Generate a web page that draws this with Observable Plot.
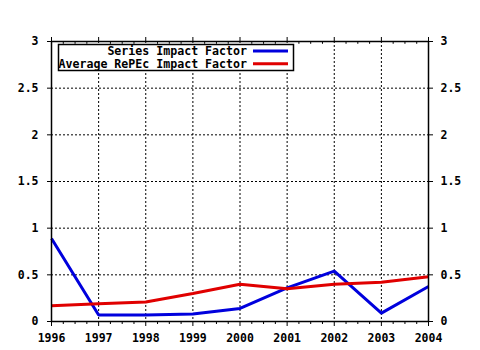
<!DOCTYPE html>
<html><head><meta charset="utf-8">
<script src="https://cdn.jsdelivr.net/npm/d3@7"></script>
<script src="https://cdn.jsdelivr.net/npm/@observablehq/plot@0.6"></script>
<style>
body{margin:0;background:#fff;}
svg{font-family:"DejaVu Sans Mono",monospace;font-weight:bold;}
</style></head>
<body><div id="chart"></div>
<script>
const years = [1996,1997,1998,1999,2000,2001,2002,2003,2004];
const seriesIF = [0.89,0.07,0.07,0.08,0.14,0.36,0.54,0.09,0.375];
const avgIF = [0.17,0.19,0.21,0.30,0.40,0.35,0.40,0.42,0.48];
const yTicks = [0,0.5,1,1.5,2,2.5,3];
const seriesNames = ["Series Impact Factor","Average RePEc Impact Factor"];
const seriesColors = ["#0000dd","#e00000"];

const data = [];
years.forEach((y,i)=>{
  data.push({year:y, value:seriesIF[i], s:seriesNames[0]});
  data.push({year:y, value:avgIF[i], s:seriesNames[1]});
});
const minor = d3.range(years[0], years[years.length-1]+0.01, 0.25).filter(v => Math.abs(v - Math.round(v)) > 1e-6);

const fmt = d => String(d);
const plot = Plot.plot({
  width:480, height:350,
  marginLeft:51, marginRight:52, marginTop:41, marginBottom:29,
  style:{fontFamily:"DejaVu Sans Mono, monospace", fontSize:"11.5px", fontWeight:"bold", background:"#fff", color:"#000"},
  x:{domain:[years[0], years[years.length-1]]},
  y:{domain:[0,3]},
  color:{domain:seriesNames, range:seriesColors},
  marks:[
    Plot.gridX(years, {stroke:"#000", strokeOpacity:1, strokeDasharray:"2,2"}),
    Plot.gridY(yTicks, {stroke:"#000", strokeOpacity:1, strokeDasharray:"2,2"}),
    Plot.lineY(data, {x:"year", y:"value", stroke:"s", strokeWidth:3, strokeLinejoin:"miter", strokeLinecap:"butt"}),
    Plot.frame({stroke:"#000", strokeWidth:1.5}),
    Plot.axisX(years, {anchor:"bottom", tickSize:5, tickPadding:7, tickFormat:fmt, label:null, fill:"#000"}),
    Plot.axisX(minor, {anchor:"bottom", tickSize:3, tickFormat:null, label:null, text:null}),
    Plot.axisX(years, {anchor:"top", tickSize:5, tickFormat:null, label:null, text:null}),
    Plot.ruleX(minor, {x:d=>d, y1:3, y2:2.97, stroke:"#000"}),
    Plot.axisY(yTicks, {anchor:"left", tickSize:4, tickPadding:9, tickFormat:fmt, label:null, fill:"#000"}),
    Plot.axisY(yTicks, {anchor:"right", tickSize:4, tickPadding:8, tickFormat:fmt, label:null, fill:"#000"})
  ]
});
document.getElementById("chart").appendChild(plot);

// legend inside plot area
const svg = d3.select(plot);
const lg = svg.append("g");
lg.append("rect").attr("x",58.5).attr("y",44.5).attr("width",235).attr("height",26)
  .attr("fill","#fff").attr("stroke","#000").attr("stroke-width",1.5);
seriesNames.forEach((n,i)=>{
  const yy = 51 + i*12.7;
  lg.append("text").attr("x",247).attr("y",yy+4).attr("text-anchor","end")
    .attr("font-size","11.6px").attr("font-weight","bold").attr("fill","#000").text(n);
  lg.append("line").attr("x1",253).attr("x2",288).attr("y1",yy).attr("y2",yy)
    .attr("stroke",seriesColors[i]).attr("stroke-width",3);
});
</script></body></html>
